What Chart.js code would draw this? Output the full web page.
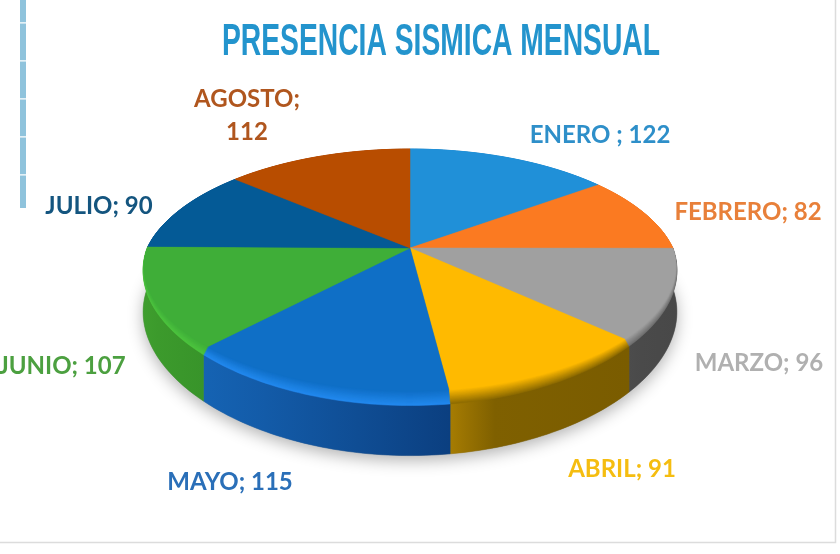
<!DOCTYPE html>
<html>
<head>
<meta charset="utf-8">
<title>Presencia sismica mensual</title>
<script src="https://cdn.jsdelivr.net/npm/chart.js@4"></script>
<style>
  html, body { margin: 0; padding: 0; background: #fff; overflow: hidden; }
  canvas { display: block; }
</style>
</head>
<body>
<canvas id="chart" width="840" height="554"></canvas>
<script>
const titleText = 'PRESENCIA SISMICA MENSUAL';
const months = ['ENERO ', 'FEBRERO', 'MARZO', 'ABRIL', 'MAYO', 'JUNIO', 'JULIO', 'AGOSTO'];
const values = [122, 82, 96, 91, 115, 107, 90, 112];

const faceColors = ['#2090d8', '#fb7a21', '#a0a0a0', '#ffba00', '#0f6fc6', '#3fae38', '#045a96', '#b84d00'];
const bevelColors = ['#2090d8', '#fb7a21', '#6e6e6e', '#8f6c00', '#2288ee', '#4cc43e', '#045a96', '#b84d00'];
const wallLeft = ['#1a6fa8', '#b85a18', '#4c4c4c', '#a67c02', '#1563b3', '#3f9e2e', '#03426e', '#8a3a00'];
const wallMid = ['#1a6fa8', '#b85a18', '#4a4a4a', '#7f6000', '#135ba8', '#3c9a2c', '#03426e', '#8a3a00'];
const wallRight = ['#1a6fa8', '#b85a18', '#484848', '#7a5c00', '#0b3f80', '#38942a', '#03426e', '#8a3a00'];
const labelColors = ['#2e8fc9', '#e8803a', '#b0b0b0', '#f5bd10', '#2a6fb8', '#4ca040', '#14557f', '#b0561e'];

// where each label is centred on the page
const labelX = [600, 748, 759, 622, 230, 62, 99, 247];
const labelY = [135, 212, 363, 469, 482, 366, 206, 99];

// tilted disc: projection of the unit circle
const cx = 410, cy = 248, radiusX = 263, radiusY = 120.8, persp = 0.2205, perspFront = 0.17, depth = 41;
const bevelShrink = 0.06, bevelLayers = 12;

function project(theta, shrink, z) {
    const u0 = Math.sin(theta), v0 = -Math.cos(theta);
    const f = 1 - shrink * Math.max(0, (v0 + 0.1) / 1.1);
    const u = u0 * (1 - (1 - f) * 0.3);
    const v = v0 * f;
    const w = 1 - persp * v;
    const wx = v > 0 ? 1 - perspFront * v : w;
    return { x: cx + radiusX * u / wx, y: cy + radiusY * v / w + z / w };
}

function rimPoints(arc, shrink, z) {
    const start = arc.startAngle + Math.PI / 2, end = arc.endAngle + Math.PI / 2;
    const steps = Math.max(2, Math.ceil((end - start) / 0.02));
    const pts = [];
    for (let i = 0; i <= steps; i++) {
        pts.push(project(start + (end - start) * i / steps, shrink, z));
    }
    return pts;
}

function tracePoly(ctx, pts) {
    ctx.beginPath();
    pts.forEach((p, i) => i ? ctx.lineTo(p.x, p.y) : ctx.moveTo(p.x, p.y));
    ctx.closePath();
}

function mix(a, b, t) {
    const pa = parseInt(a.slice(1), 16), pb = parseInt(b.slice(1), 16);
    const ch = s => Math.round(((pa >> s) & 255) * (1 - t) + ((pb >> s) & 255) * t);
    return `rgb(${ch(16)},${ch(8)},${ch(0)})`;
}

const disc3d = {
    id: 'disc3d',
    beforeDatasetsDraw(chart) {
        const ctx = chart.ctx;
        const arcs = chart.getDatasetMeta(0).data;
        ctx.save();

        // soft shadow under the disc
        ctx.save();
        ctx.shadowColor = 'rgba(0,0,0,0.3)';
        ctx.shadowBlur = 16;
        ctx.shadowOffsetY = 5;
        ctx.fillStyle = '#888';
        const ring = [];
        for (let a = 0; a < 360; a += 2) ring.push(project(a * Math.PI / 180, 0, depth));
        tracePoly(ctx, ring);
        ctx.fill();
        ctx.restore();

        // walls
        arcs.forEach((arc, i) => {
            const top = rimPoints(arc, 0, 0);
            const bottom = rimPoints(arc, 0, depth).reverse();
            const xs = top.map(p => p.x);
            const g = ctx.createLinearGradient(Math.min(...xs), 0, Math.max(...xs), 0);
            g.addColorStop(0, wallLeft[i]);
            g.addColorStop(0.25, wallMid[i]);
            g.addColorStop(1, wallRight[i]);
            tracePoly(ctx, top.concat(bottom));
            ctx.fillStyle = g;
            ctx.fill();
            ctx.strokeStyle = g;
            ctx.lineWidth = 0.5;
            ctx.stroke();
        });

        // bevel layers, then the face on top
        for (let k = 0; k <= bevelLayers; k++) {
            const t = k / bevelLayers;
            arcs.forEach((arc, i) => {
                const pts = rimPoints(arc, bevelShrink * t, 2 * (1 - t));
                pts.unshift({ x: cx, y: cy });
                tracePoly(ctx, pts);
                const col = mix(bevelColors[i], faceColors[i], t);
                ctx.fillStyle = col;
                ctx.strokeStyle = col;
                ctx.lineWidth = 0.5;
                ctx.fill();
                ctx.stroke();
            });
        }
        ctx.restore();
        return false;
    },
    afterDraw(chart) {
        const ctx = chart.ctx;
        ctx.save();

        // page frame
        ctx.strokeStyle = '#dcdcdc';
        ctx.lineWidth = 1.5;
        ctx.beginPath();
        ctx.moveTo(0, 542.5);
        ctx.lineTo(835.5, 542.5);
        ctx.lineTo(835.5, 0);
        ctx.stroke();

        // dashed bar at the left
        ctx.strokeStyle = '#8fc3dc';
        ctx.lineWidth = 6;
        ctx.setLineDash([36.8, 1.2]);
        ctx.lineDashOffset = 14.5;
        ctx.beginPath();
        ctx.moveTo(23, 0);
        ctx.lineTo(23, 208);
        ctx.stroke();
        ctx.setLineDash([]);

        // title, condensed to the reference width
        ctx.fillStyle = '#2394cd';
        ctx.textAlign = 'center';
        ctx.textBaseline = 'alphabetic';
        ctx.font = 'bold 44px "Liberation Sans"';
        const sx = 438 / ctx.measureText(titleText).width;
        ctx.save();
        ctx.translate(441, 55);
        ctx.scale(sx, 1);
        ctx.fillText(titleText, 0, 0);
        ctx.restore();

        // labels
        ctx.font = 'bold 24px Lato';
        ctx.textBaseline = 'middle';
        months.forEach((m, i) => {
            ctx.fillStyle = labelColors[i];
            if (m === 'AGOSTO') {
                ctx.fillText(m + ';', labelX[i], labelY[i]);
                ctx.fillText(String(values[i]), labelX[i], labelY[i] + 33);
            } else {
                ctx.fillText(m + '; ' + values[i], labelX[i], labelY[i]);
            }
        });
        ctx.restore();
    }
};

new Chart(document.getElementById('chart'), {
    type: 'pie',
    data: {
        labels: months,
        datasets: [{ data: values, backgroundColor: faceColors, borderWidth: 0 }],
    },
    options: {
        responsive: false,
        animation: false,
        events: [],
        plugins: {
            legend: { display: false },
            title: { display: false },
            tooltip: { enabled: false },
        },
    },
    plugins: [disc3d],
});
</script>
</body>
</html>
